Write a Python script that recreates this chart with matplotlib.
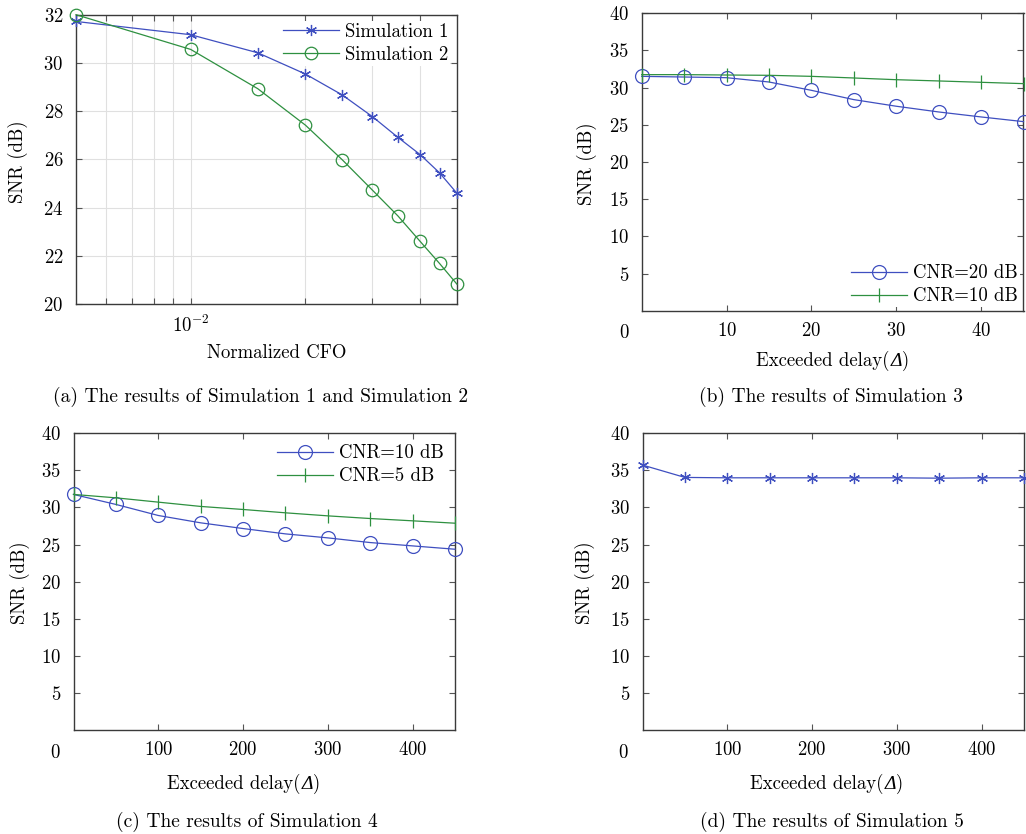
import matplotlib
matplotlib.use("Agg")
import matplotlib.pyplot as plt
from matplotlib.ticker import NullFormatter, FixedLocator

plt.rcParams.update({
    "font.family": "serif",
    "font.serif": ["cmr10"],
    "mathtext.fontset": "cm",
    "axes.formatter.use_mathtext": True,
    "axes.unicode_minus": False,
    "font.size": 13,
})

# ---- data -------------------------------------------------------------
# Simulation 1 and 2: SNR versus normalized CFO
cfo = [0.005, 0.01, 0.015, 0.02, 0.025, 0.03, 0.035, 0.04, 0.045, 0.05]
snr_sim1 = [31.72, 31.17, 30.42, 29.54, 28.67, 27.77, 26.91, 26.20, 25.44, 24.59]
snr_sim2 = [32.00, 30.56, 28.93, 27.42, 25.98, 24.72, 23.65, 22.60, 21.68, 20.82]

# Simulation 3: SNR versus exceeded delay
delay_sim3 = [0, 5, 10, 15, 20, 25, 30, 35, 40, 45]
snr_sim3_cnr20 = [31.52, 31.43, 31.34, 30.76, 29.64, 28.39, 27.50, 26.73, 26.06, 25.43]
snr_sim3_cnr10 = [31.75, 31.75, 31.70, 31.66, 31.52, 31.30, 31.07, 30.90, 30.72, 30.54]

# Simulation 4 and 5: SNR versus exceeded delay
delay_sim45 = [0, 50, 100, 150, 200, 250, 300, 350, 400, 450]
snr_sim4_cnr10 = [31.76, 30.41, 28.92, 27.93, 27.16, 26.44, 25.90, 25.27, 24.82, 24.37]
snr_sim4_cnr5 = [31.76, 31.30, 30.72, 30.14, 29.73, 29.28, 28.87, 28.51, 28.20, 27.88]
snr_sim5 = [35.72, 34.05, 34.00, 34.00, 34.00, 34.00, 34.00, 33.95, 34.00, 34.00]

snr_ticks = [5, 10, 15, 20, 25, 30, 35, 40]

captions = [
    "(a) The results of Simulation 1 and Simulation 2",
    "(b) The results of Simulation 3",
    "(c) The results of Simulation 4",
    "(d) The results of Simulation 5",
]
# "Exceeded delay(Δ)" with an italic Delta
delay_parts = ["Exceeded delay(", "\u0394", ")"]

# ---- style ------------------------------------------------------------
BLUE = "#3f4fc0"
GREEN = "#2e9040"
ASTER = (6, 2, 0)
W, H = 1026, 834

fig = plt.figure(figsize=(W / 100, H / 100), dpi=100)


def box(l, t, r, b):
    return [l / W, 1 - b / H, (r - l) / W, (b - t) / H]


def style(ax):
    for s in ax.spines.values():
        s.set_color("#3a3a3a")
        s.set_linewidth(1.0)
    ax.tick_params(which="both", direction="in", top=True, right=True,
                   length=4, width=0.8, color="#555555", labelsize=13.5)
    ax.tick_params(axis="y", pad=9)
    ax.tick_params(axis="x", pad=8)


def label(x, y, s, **kw):
    return fig.text(x / W, 1 - y / H, s, ha="center", va="center", **kw)


pending_delay_labels = []


def delay_label(xc, y):
    pending_delay_labels.append((xc, y))


def place_delay_labels():
    renderer = fig.canvas.get_renderer()
    for xc, y in pending_delay_labels:
        pieces = [
            fig.text(0, 0, delay_parts[0], fontsize=13.5, va="baseline"),
            fig.text(0, 0, delay_parts[1], fontsize=14, va="baseline",
                     family="Liberation Serif", style="italic"),
            fig.text(0, 0, delay_parts[2], fontsize=13.5, va="baseline"),
        ]
        widths = [p.get_window_extent(renderer).width for p in pieces]
        x0 = xc - (sum(widths) + 1) / 2
        base = 1 - (y + 5) / H
        for p, w in zip(pieces, widths):
            p.set_position((x0 / W, base))
            x0 += w + 0.5


line_kw = dict(lw=0.9, mew=0.9, clip_on=False, zorder=3)
leg_kw = dict(fontsize=13.5, handlelength=3.0, handletextpad=0.3,
              labelspacing=0.25, borderpad=0.1,
              fancybox=False, framealpha=1.0, edgecolor="none")

# (a)
ax = fig.add_axes(box(76, 14.7, 457, 304))
ax.plot(cfo, snr_sim1, color=BLUE, marker=ASTER, ms=8, label="Simulation 1", **line_kw)
ax.plot(cfo, snr_sim2, color=GREEN, marker="o", mfc="none", ms=9, label="Simulation 2", **line_kw)
ax.set_xscale("log")
ax.set_xlim(0.005, 0.05)
ax.set_ylim(20, 32)
ax.set_yticks([20, 22, 24, 26, 28, 30, 32])
ax.xaxis.set_major_locator(FixedLocator([0.01]))
ax.xaxis.set_minor_locator(FixedLocator([0.006, 0.007, 0.008, 0.009, 0.02, 0.03, 0.04]))
ax.xaxis.set_minor_formatter(NullFormatter())
ax.grid(True, which="both", axis="x", color="#e0e0e0", lw=0.8)
ax.grid(True, which="major", axis="y", color="#e0e0e0", lw=0.8)
ax.set_axisbelow(True)
style(ax)
leg = ax.legend(loc="upper right", borderaxespad=0.35, **leg_kw)
leg.set_zorder(2)
label(277, 353, "Normalized CFO", fontsize=13.5)
label(18, 162, "SNR (dB)", rotation=90, fontsize=13.5)

# (b)
ax = fig.add_axes(box(641.7, 13.3, 1023.5, 310.7))
ax.plot(delay_sim3, snr_sim3_cnr20, color=BLUE, marker="o", mfc="none", ms=10, label="CNR=20 dB", **line_kw)
ax.plot(delay_sim3, snr_sim3_cnr10, color=GREEN, marker="|", ms=10, label="CNR=10 dB", **line_kw)
ax.set_xlim(0, 45)
ax.set_ylim(0, 40)
ax.set_xticks([10, 20, 30, 40])
ax.set_yticks(snr_ticks)
style(ax)
ax.legend(loc="lower right", borderaxespad=0.2, **leg_kw)
label(624, 333, "0", fontsize=13.5)
delay_label(833, 361)
label(587, 164, "SNR (dB)", rotation=90, fontsize=13.5)

# (c)
ax = fig.add_axes(box(73.5, 433.3, 455, 730))
ax.plot(delay_sim45, snr_sim4_cnr10, color=BLUE, marker="o", mfc="none", ms=10, label="CNR=10 dB", **line_kw)
ax.plot(delay_sim45, snr_sim4_cnr5, color=GREEN, marker="|", ms=10, label="CNR=5 dB", **line_kw)
ax.set_xlim(0, 450)
ax.set_ylim(0, 40)
ax.set_xticks([100, 200, 300, 400])
ax.set_yticks(snr_ticks)
style(ax)
ax.legend(loc="upper right", borderaxespad=0.5, **leg_kw)
label(55, 753, "0", fontsize=13.5)
delay_label(244, 784)
label(20, 583, "SNR (dB)", rotation=90, fontsize=13.5)

# (d)
ax = fig.add_axes(box(642.5, 433.3, 1024, 730))
ax.plot(delay_sim45, snr_sim5, color=BLUE, marker=ASTER, ms=8, **line_kw)
ax.set_xlim(0, 450)
ax.set_ylim(0, 40)
ax.set_xticks([100, 200, 300, 400])
ax.set_yticks(snr_ticks)
style(ax)
label(623, 753, "0", fontsize=13.5)
delay_label(827, 784)
label(585, 583, "SNR (dB)", rotation=90, fontsize=13.5)

# sub-figure captions
label(261, 397, captions[0], fontsize=14)
label(831, 397, captions[1], fontsize=14)
label(247, 822, captions[2], fontsize=14)
label(832, 822, captions[3], fontsize=14)

place_delay_labels()
fig.savefig("out.png", dpi=100)
